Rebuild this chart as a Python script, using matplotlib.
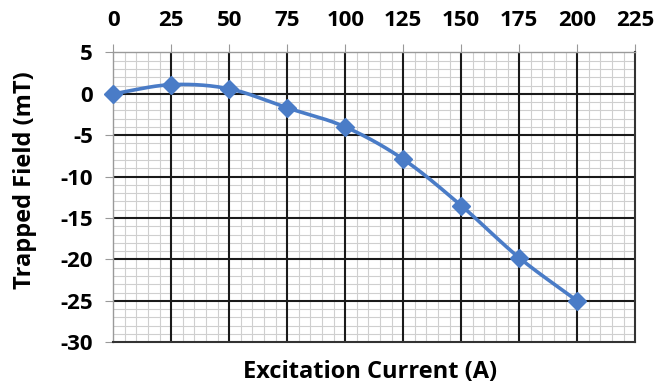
import numpy as np
import matplotlib
matplotlib.use("Agg")
import matplotlib.pyplot as plt

plt.rcParams['font.family'] = ['Open Sans', 'DejaVu Sans']
plt.rcParams['axes.unicode_minus'] = False

current = [0, 25, 50, 75, 100, 125, 150, 175, 200]
field = [0.0, 1.1, 0.6, -1.7, -4.0, -7.9, -13.5, -19.8, -25.0]
x_ticks = [0, 25, 50, 75, 100, 125, 150, 175, 200, 225]
y_ticks = [5, 0, -5, -10, -15, -20, -25, -30]


def catmull_rom(xs, ys, n=40):
    """Smooth curve through the points (uniform Catmull-Rom spline)."""
    px = np.concatenate([[2 * xs[0] - xs[1]], xs, [2 * xs[-1] - xs[-2]]])
    py = np.concatenate([[2 * ys[0] - ys[1]], ys, [2 * ys[-1] - ys[-2]]])
    out_x, out_y = [], []
    t = np.linspace(0, 1, n, endpoint=False)
    for i in range(1, len(px) - 2):
        for p, out in ((px, out_x), (py, out_y)):
            p0, p1, p2, p3 = p[i - 1], p[i], p[i + 1], p[i + 2]
            seg = 0.5 * ((2 * p1) + (-p0 + p2) * t
                         + (2 * p0 - 5 * p1 + 4 * p2 - p3) * t ** 2
                         + (-p0 + 3 * p1 - 3 * p2 + p3) * t ** 3)
            out.extend(seg)
    out_x.append(xs[-1])
    out_y.append(ys[-1])
    return np.array(out_x), np.array(out_y)


fig = plt.figure(figsize=(6.7, 3.88), dpi=100)
ax = fig.add_axes([0.169, 0.118, 0.779, 0.747])

ax.set_xlim(0, 225)
ax.set_ylim(-30, 5)
ax.set_xticks(x_ticks)
ax.set_yticks(y_ticks)

# graph-paper grid: all fine lines first, then the heavy lines on top
minor_x = [v for v in range(0, 226, 5) if v % 25]
minor_y = [v for v in range(-30, 6) if v % 5]
ax.vlines(minor_x, -30, 5, colors='#cfcfcf', linewidth=0.8, zorder=0.5)
ax.hlines(minor_y, 0, 225, colors='#cfcfcf', linewidth=0.8, zorder=0.5)
ax.vlines(x_ticks[1:-1], -30, 5, colors='#1a1a1a', linewidth=1.5, zorder=0.8)
ax.hlines(y_ticks[1:-1], 0, 225, colors='#1a1a1a', linewidth=1.5, zorder=0.8)

ax.xaxis.tick_top()
ax.tick_params(axis='x', which='major', top=True, bottom=False, length=5.5,
               color='#999999', labelsize=16, pad=10)
ax.tick_params(axis='y', which='major', length=5.5, color='#999999',
               labelsize=16, pad=9)
for lbl in ax.get_xticklabels() + ax.get_yticklabels():
    lbl.set_fontweight('bold')

for side in ('top', 'left'):
    ax.spines[side].set_color('#999999')
    ax.spines[side].set_linewidth(1.0)
for side in ('bottom', 'right'):
    ax.spines[side].set_color('#333333')
    ax.spines[side].set_linewidth(1.5)

sx, sy = catmull_rom(np.array(current, float), np.array(field, float))
ax.plot(sx, sy, color='#4a7cc7', linewidth=2.6, solid_capstyle='round', zorder=3)
ax.plot(current, field, linestyle='none', marker='D', markersize=9,
        color='#4a7cc7', zorder=4, clip_on=False)

fig.text(0.552, 0.042, 'Excitation Current (A)', ha='center', va='center',
         fontsize=17, fontweight='bold')
fig.text(0.038, 0.536, 'Trapped Field (mT)', ha='center', va='center',
         rotation=90, fontsize=17, fontweight='bold')

fig.savefig('out.png', dpi=100)
